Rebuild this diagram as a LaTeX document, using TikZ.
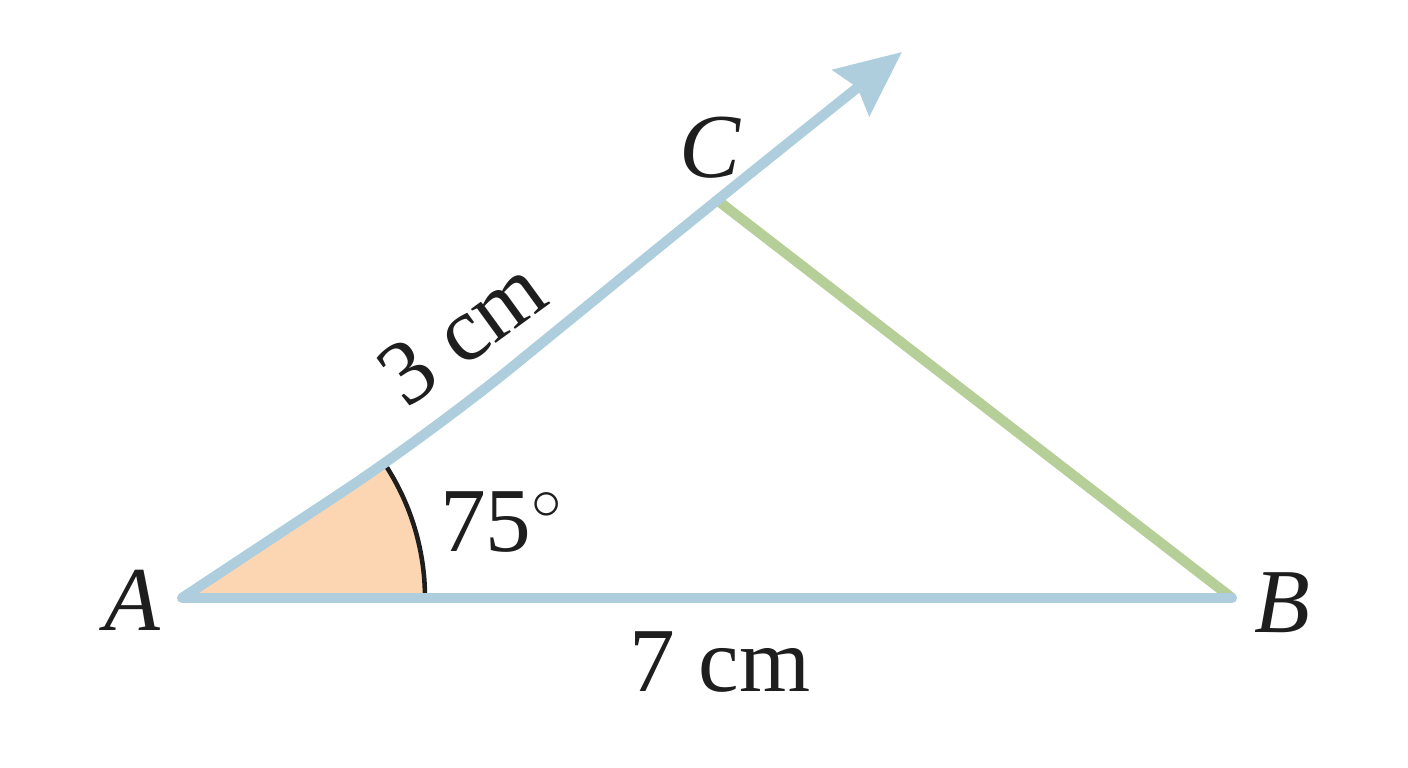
\documentclass[tikz,border=0pt]{standalone}
\usepackage{fontspec}
\setmainfont{Liberation Serif}
\usetikzlibrary{arrows.meta,positioning,calc}
\definecolor{rayblue}{RGB}{174,206,222}
\definecolor{sidegreen}{RGB}{182,206,152}
\definecolor{angleorange}{RGB}{252,214,178}
\definecolor{inkblack}{RGB}{30,30,30}

\begin{document}
\begin{tikzpicture}[>=Stealth,
    ray/.style={rayblue, line width=2.9pt},
    greenside/.style={sidegreen, line width=2.9pt},
    lbl/.style={inkblack, font=\fontsize{26}{30}\selectfont}]
    \useasboundingbox (0,0) rectangle (14.08,7.68);

    % Vertices
    \coordinate (A) at (1.82,1.70);
    \coordinate (B) at (12.32,1.70);
    \coordinate (C) at (7.17,5.68);
    \coordinate (K) at (4.30,3.34);
    \coordinate (T) at (9.02,7.16);

    % Angle at A
    \fill[angleorange] (A) -- ++(0:2.43) arc (0:33:2.43) -- cycle;
    \draw[inkblack, line width=1.3pt] ($(A)+(0:2.43)$) arc (0:33:2.43);

    % Sides
    \draw[greenside] (C) -- (B);
    \draw[ray, line cap=round] (B) -- (A);
    \draw[ray, rounded corners=30pt, -{Stealth[length=6.5mm, width=5.8mm, inset=0.8mm]}] (A) -- (K) -- (C) -- (T);

    % Labels
    \node[lbl] (a) at (1.33,1.68) {\textit{A}};
    \node[lbl] (b) at (12.82,1.65) {\textit{B}};
    \node[lbl] (c) at (7.10,6.20) {\textit{C}};
    \node[lbl] (ab) at (7.20,1.06) {7 cm};
    \node[lbl, rotate=36, inner sep=1pt] (ac) at (4.62,4.36) {3 cm};
    \node[lbl] (ang) at (5.02,2.46) {75$^\circ$};
\end{tikzpicture}
\end{document}
